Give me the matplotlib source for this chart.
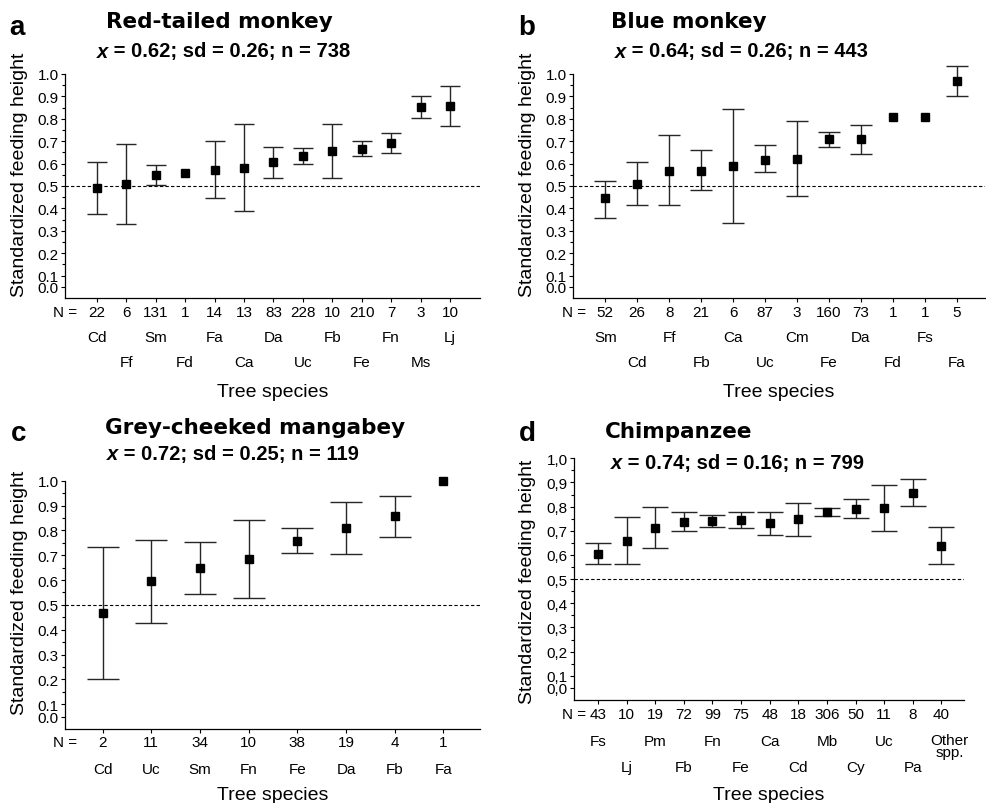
import numpy as np
import matplotlib
matplotlib.use('Agg')
import matplotlib.pyplot as plt
from matplotlib.ticker import FixedLocator

plt.rcParams['font.family'] = ['Liberation Sans', 'DejaVu Sans']

# ---- data ----
a_species = ['Cd', 'Ff', 'Sm', 'Fd', 'Fa', 'Ca', 'Da', 'Uc', 'Fb', 'Fe', 'Fn', 'Ms', 'Lj']
a_n = [22, 6, 131, 1, 14, 13, 83, 228, 10, 210, 7, 3, 10]
a_mean = [0.49, 0.51, 0.55, 0.56, 0.57, 0.58, 0.605, 0.633, 0.657, 0.667, 0.69, 0.852, 0.855]
a_low = [0.376, 0.329, 0.505, None, 0.448, 0.388, 0.536, 0.60, 0.536, 0.636, 0.646, 0.803, 0.767]
a_high = [0.605, 0.688, 0.594, None, 0.70, 0.776, 0.676, 0.669, 0.776, 0.699, 0.736, 0.903, 0.945]

b_species = ['Sm', 'Cd', 'Ff', 'Fb', 'Ca', 'Uc', 'Cm', 'Fe', 'Da', 'Fd', 'Fs', 'Fa']
b_n = [52, 26, 8, 21, 6, 87, 3, 160, 73, 1, 1, 5]
b_mean = [0.445, 0.508, 0.567, 0.568, 0.59, 0.618, 0.62, 0.709, 0.709, 0.81, 0.81, 0.97]
b_low = [0.358, 0.414, 0.414, 0.482, 0.336, 0.561, 0.455, 0.676, 0.645, None, None, 0.903]
b_high = [0.522, 0.605, 0.727, 0.66, 0.843, 0.681, 0.788, 0.742, 0.773, None, None, 1.037]

c_species = ['Cd', 'Uc', 'Sm', 'Fn', 'Fe', 'Da', 'Fb', 'Fa']
c_n = [2, 11, 34, 10, 38, 19, 4, 1]
c_mean = [0.467, 0.595, 0.648, 0.685, 0.757, 0.808, 0.857, 1.0]
c_low = [0.20, 0.426, 0.544, 0.528, 0.708, 0.704, 0.775, None]
c_high = [0.732, 0.763, 0.753, 0.841, 0.808, 0.914, 0.94, None]

d_species = ['Fs', 'Lj', 'Pm', 'Fb', 'Fn', 'Fe', 'Ca', 'Cd', 'Mb', 'Cy', 'Uc', 'Pa', 'Other\nspp.']
d_n = [43, 10, 19, 72, 99, 75, 48, 18, 306, 50, 11, 8, 40]
d_mean = [0.604, 0.656, 0.713, 0.737, 0.74, 0.743, 0.732, 0.747, 0.777, 0.791, 0.794, 0.856, 0.638]
d_low = [0.563, 0.563, 0.627, 0.698, 0.717, 0.71, 0.684, 0.678, 0.761, 0.754, 0.698, 0.801, 0.563]
d_high = [0.648, 0.756, 0.80, 0.776, 0.765, 0.776, 0.779, 0.816, 0.794, 0.83, 0.889, 0.913, 0.714]

W, H = 986, 804
fig = plt.figure(figsize=(W / 100, H / 100), dpi=100)


def px(x, y):
    return x / W, 1 - y / H


def panel(box, species, n, mean, low, high, xlim, cap, nx, offs, two_rows, comma=False):
    l, t, r, b = box
    ax = fig.add_axes([l / W, 1 - b / H, (r - l) / W, (b - t) / H])
    x = np.arange(len(species))
    lo = np.array([np.nan if v is None else v for v in low])
    hi = np.array([np.nan if v is None else v for v in high])
    m = np.array(mean)
    ok = ~np.isnan(lo)
    ax.errorbar(x[ok], m[ok], yerr=[m[ok] - lo[ok], hi[ok] - m[ok]], fmt='none',
                ecolor='#262626', elinewidth=1, capsize=cap, capthick=1, clip_on=False)
    ax.plot(x, m, 's', color='black', markersize=5.2, clip_on=False, zorder=3)
    ax.axhline(0.5, color='black', lw=0.8, ls=(0, (3, 2)))
    ax.set_xlim(*xlim)
    ax.set_ylim(0, 1.0)
    for s in ['top', 'right']:
        ax.spines[s].set_visible(False)
    for s in ['left', 'bottom']:
        ax.spines[s].set_linewidth(0.9)
    # SPSS-style axis: the "0.0" label sits half a step above the baseline
    ticks = [0.05] + [round(0.1 * k, 1) for k in range(1, 11)]
    labels = ['%.1f' % (k / 10) for k in range(0, 11)]
    if comma:
        labels = [s.replace('.', ',') for s in labels]
    ax.yaxis.set_major_locator(FixedLocator(ticks))
    ax.set_yticklabels(labels)
    ax.yaxis.set_minor_locator(FixedLocator([0.15 + 0.1 * k for k in range(9)]))
    ax.tick_params(axis='y', which='major', length=3, width=0.8, pad=1.5, labelsize=11)
    ax.tick_params(axis='y', which='minor', length=2, width=0.8)
    ax.set_xticks(x)
    ax.set_xticklabels([])
    ax.tick_params(axis='x', length=3, width=0.8)
    # N row and species rows
    ax.annotate('N =', xy=(nx, 0), xycoords=('data', 'axes fraction'),
                xytext=(0, -offs[0] * 0.72), textcoords='offset points',
                ha='right', va='center', fontsize=11)
    for i, (sp, nn) in enumerate(zip(species, n)):
        ax.annotate(str(nn), xy=(i, 0), xycoords=('data', 'axes fraction'),
                    xytext=(0, -offs[0] * 0.72), textcoords='offset points',
                    ha='center', va='center', fontsize=11)
        row = offs[1] if (not two_rows or i % 2 == 0) else offs[2]
        if '\n' in sp:
            ax.annotate(sp, xy=(i, 0), xycoords=('data', 'axes fraction'),
                        xytext=(6, -(row - 8) * 0.72), textcoords='offset points',
                        ha='center', va='top', fontsize=11, linespacing=0.85)
        else:
            ax.annotate(sp, xy=(i, 0), xycoords=('data', 'axes fraction'),
                        xytext=(0, -row * 0.72), textcoords='offset points',
                        ha='center', va='center', fontsize=11)
    ax.annotate('Tree species', xy=(0.5, 0), xycoords='axes fraction',
                xytext=(0, -offs[3] * 0.72), textcoords='offset points',
                ha='center', va='center', fontsize=14)
    return ax


panel((65, 75, 480, 299), a_species, a_n, a_mean, a_low, a_high,
      (-1.08, 13.02), 7.2, -0.67, (14, 39, 64, 94), True)
panel((573, 75, 985, 299), b_species, b_n, b_mean, b_low, b_high,
      (-1.01, 11.88), 7.6, -0.61, (14, 39, 64, 94), True)
panel((65, 481.7, 480, 730), c_species, c_n, c_mean, c_low, c_high,
      (-0.77, 7.75), 11.5, -0.53, (13, 40, 40, 66), False)
panel((574, 459.3, 963.7, 701), d_species, d_n, d_mean, d_low, d_high,
      (-0.84, 12.78), 9.4, -0.42, (14, 40.7, 67.3, 95), True, comma=True)

# y labels
for xx, yy in [(19.5, 174.5), (527.5, 174.5), (19.5, 593), (527.5, 581.5)]:
    fig.text(*px(xx, yy), 'Standardized feeding height', rotation=90,
             ha='center', va='center', fontsize=14)

# panel letters
for letter, xx, yy in [('a', 17, 28), ('b', 527, 28), ('c', 19, 434), ('d', 527, 434)]:
    fig.text(*px(xx, yy), letter, ha='center', va='center', fontsize=20, fontweight='bold')

# titles
titles = [('Red-tailed monkey', 106, 22), ('Blue monkey', 611, 22),
          ('Grey-cheeked mangabey', 105, 428), ('Chimpanzee', 605, 431.7)]
for txt, xx, yy in titles:
    fig.text(*px(xx, yy), txt, ha='left', va='center', fontsize=15.5,
             fontweight='heavy', family='DejaVu Sans')

subs = [(' = 0.62; sd = 0.26; n = 738', 97, 52), (' = 0.64; sd = 0.26; n = 443', 615, 52),
        (' = 0.72; sd = 0.25; n = 119', 107, 455), (' = 0.74; sd = 0.16; n = 799', 611, 463.3)]
for txt, xx, yy in subs:
    fig.text(*px(xx, yy), 'x', ha='left', va='center', fontsize=14.5,
             fontweight='bold', style='italic')
    fig.text(*px(xx + 11, yy), txt, ha='left', va='center', fontsize=14.5, fontweight='bold')

fig.savefig('out.png', dpi=100)
